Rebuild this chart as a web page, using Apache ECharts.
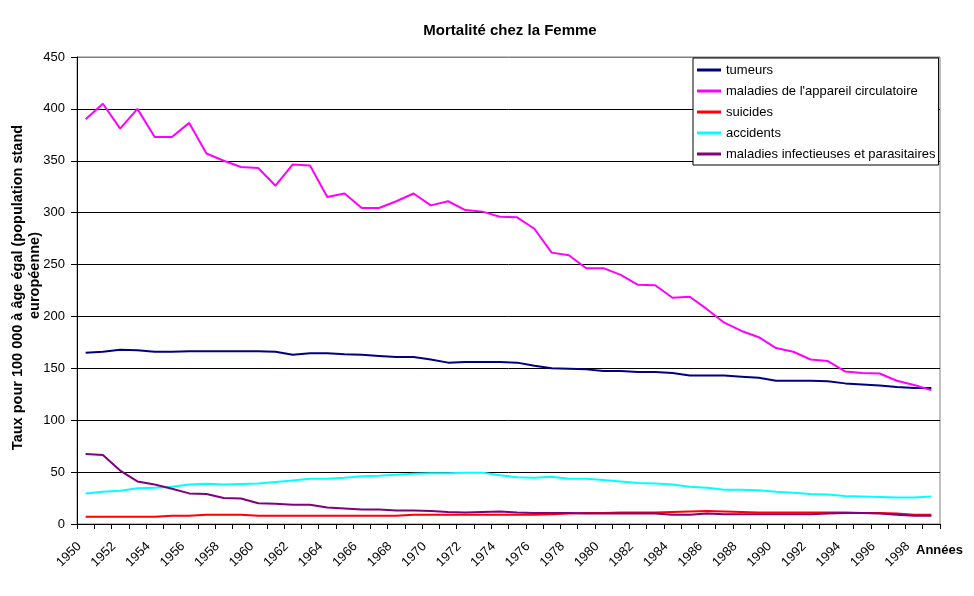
<!DOCTYPE html>
<html><head><meta charset="utf-8">
<script src="https://cdn.jsdelivr.net/npm/echarts@6/dist/echarts.min.js"></script>
<style>html,body{margin:0;padding:0;background:#fff}#c{width:974px;height:596px}</style>
</head><body><div id="c"></div>
<script>
const years = ['1950','1951','1952','1953','1954','1955','1956','1957','1958','1959',
  '1960','1961','1962','1963','1964','1965','1966','1967','1968','1969',
  '1970','1971','1972','1973','1974','1975','1976','1977','1978','1979',
  '1980','1981','1982','1983','1984','1985','1986','1987','1988','1989',
  '1990','1991','1992','1993','1994','1995','1996','1997','1998','1999'];

const tumeurs = [165,166,168,167.5,166,166,166.5,166.5,166.5,166.5,
  166.5,166,163,164.5,164.5,163.5,163,162,161,161,
  158.5,155.5,156,156,156,155.5,152.5,150,149.5,149,
  147.5,147.5,146.5,146.5,145.5,143,143,143,142,141,
  138,138,138,137.5,135.5,134.5,133.5,132,131,131];

const circulatoire = [390,405,381,400,373,373,386.5,357,350,344,
  343,326,346.5,345.5,315,318.5,304.5,304.5,311,318.5,
  307,311,302.5,301,296,295.5,284.5,261.5,259,246.5,
  246.5,240,230.5,230,218,219,207,194,186,180,
  169.5,166,158.5,157,147,145.5,145,138,134,129];

const suicides = [7,7,7,7,7,8,8,9,9,9,
  8,8,8,8,8,8,8,8,8,9,
  9,9,9,9,9,9,9,9.5,10,10.5,
  10.5,11,11,11,11.5,12,12.5,12,11.5,11,
  11,11,11,11,11,10.5,10.5,10,9,9];

const accidents = [29.5,31,32,34.5,35,35.8,38,38.8,38,38.5,
  39,40.5,42,43.5,43.5,44.5,46,46.5,47.5,48.5,
  49,49,49.5,49.5,47,45,44.5,45.5,43.5,43.5,
  42.5,41,39.5,39,38,36,35,33,33,32.5,
  31,30,29,28.5,27,26.5,26,25.5,25.5,26.5];

const infectieuses = [67.5,66.5,51.5,41,38,34,29.5,29,25,24.5,
  20,19.5,18.5,18.5,16,15,14,14,13,13,
  12.5,11.5,11,11.5,12,11,10.5,10.5,10.5,10,
  10,10,10,10,9,9,10,9.5,9.5,9.5,
  9.5,9.5,9.5,10,10.5,10.5,10,9,8,8];

const seriesNames = ['tumeurs',"maladies de l'appareil circulatoire",'suicides','accidents','maladies infectieuses et parasitaires'];
const seriesData = [tumeurs, circulatoire, suicides, accidents, infectieuses];
const seriesColors = ['#000080','#FF00FF','#FF0000','#00FFFF','#800080'];
const yTicks = [0,50,100,150,200,250,300,350,400,450];
const yNameLines = ['Taux pour 100 000 à âge égal (population stand', 'européenne)'];

const FONT = '"Liberation Sans", Arial, sans-serif';
const chart = echarts.init(document.getElementById('c'), null, {renderer:'canvas'});
const splitColors = yTicks.map((v,i)=> i === yTicks.length-1 ? '#808080' : '#000000');

chart.setOption({
  animation: false,
  backgroundColor: '#ffffff',
  textStyle: {fontFamily: FONT},
  title: {
    text: 'Mortalité chez la Femme',
    left: 510, top: 23, padding: 0, textAlign: 'center',
    textStyle: {fontFamily: FONT, fontSize: 15, fontWeight: 'bold', color: '#000'}
  },
  legend: {
    orient: 'vertical', left: 693, top: 58,
    backgroundColor: '#fff', borderColor: '#000', borderWidth: 1, borderRadius: 0,
    padding: [5, 3, 4, 4], itemGap: 7, itemWidth: 24, itemHeight: 3, icon: 'rect',
    textStyle: {fontFamily: FONT, fontSize: 13, color: '#000', lineHeight: 14},
    data: seriesNames
  },
  grid: {left: 77, right: 34, top: 57, bottom: 72, containLabel: false, outerBoundsMode: 'none',
    show: true, borderColor: '#808080', borderWidth: 1, backgroundColor: '#fff'},
  xAxis: {
    type: 'category', data: years, boundaryGap: true,
    axisLine: {lineStyle: {color: '#000', width: 1}},
    axisTick: {show: true, interval: 0, length: 5, lineStyle: {color: '#000'}},
    axisLabel: {interval: 1, rotate: 45, margin: 14, padding: [0, 9, 0, 0], fontFamily: FONT, fontSize: 13, color: '#000'},
    splitLine: {show: false}
  },
  yAxis: {
    type: 'value', min: 0, max: 450, interval: 50,
    name: '{a|' + yNameLines[0] + '}\n{b|' + yNameLines[1] + '}',
    nameLocation: 'middle', nameGap: 34, nameMoveOverlap: false,
    nameTextStyle: {fontFamily: FONT, fontSize: 14.5, fontWeight: 'bold', color: '#000', lineHeight: 17, align: 'center',
      rich: {
        a: {fontFamily: FONT, fontSize: 14.5, fontWeight: 'bold', color: '#000', lineHeight: 17, padding: [0, 0, 0, 6]},
        b: {fontFamily: FONT, fontSize: 14.5, fontWeight: 'bold', color: '#000', lineHeight: 17, padding: [0, 0, 0, 30]}
      }},
    axisLine: {show: true, lineStyle: {color: '#000', width: 1}},
    axisTick: {show: true, length: 6, lineStyle: {color: '#000'}},
    axisLabel: {margin: 12, fontFamily: FONT, fontSize: 13, color: '#000'},
    splitLine: {show: true, lineStyle: {color: splitColors, width: 1}}
  },
  graphic: [{
    type: 'text', left: 916, top: 544,
    style: {text: 'Années', fontFamily: FONT, fontSize: 13, fontWeight: 'bold', fill: '#000'}
  }],
  series: seriesNames.map((n, i) => ({
    name: n, type: 'line', data: seriesData[i], showSymbol: false, symbol: 'none',
    lineStyle: {color: seriesColors[i], width: 2}, itemStyle: {color: seriesColors[i]},
    emphasis: {disabled: true}
  }))
});
</script></body></html>
